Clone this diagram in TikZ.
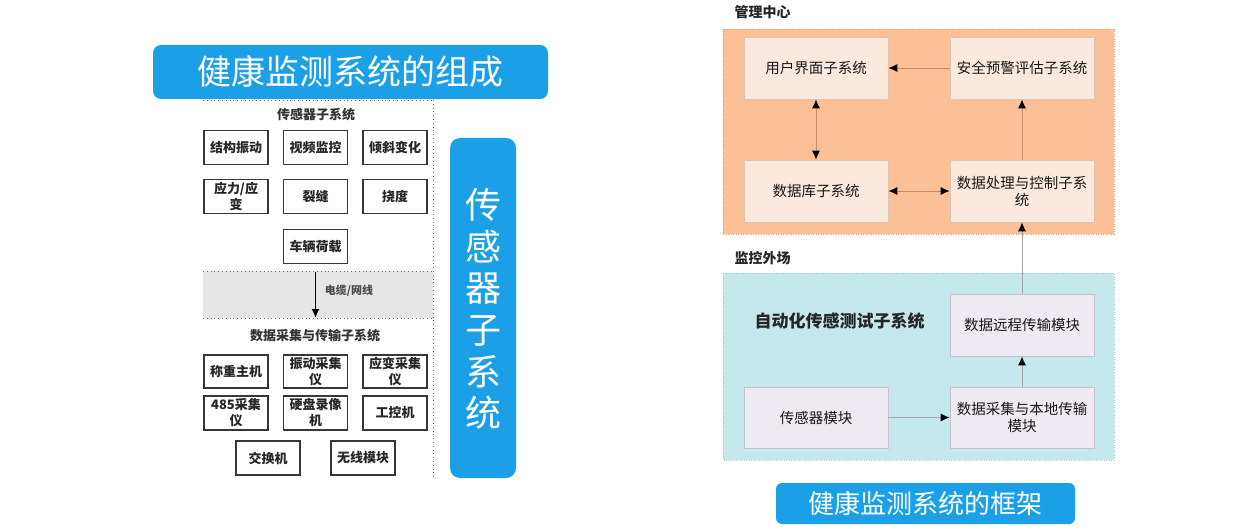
\documentclass[tikz,border=0pt]{standalone}
\usepackage{fontspec}
\setmainfont{Noto Sans CJK SC}
\usetikzlibrary{arrows.meta}
\definecolor{tblue}{RGB}{27,160,232}
\definecolor{lbord}{RGB}{55,55,55}
\definecolor{band}{RGB}{230,230,230}
\definecolor{orng}{RGB}{251,192,150}
\definecolor{orngd}{RGB}{225,160,120}
\definecolor{peach}{RGB}{252,233,221}
\definecolor{peachd}{RGB}{225,195,175}
\definecolor{cyanb}{RGB}{196,232,236}
\definecolor{cyand}{RGB}{160,205,210}
\definecolor{lav}{RGB}{237,234,242}
\definecolor{lavd}{RGB}{195,195,205}
\definecolor{brn}{RGB}{200,140,105}
\definecolor{garr}{RGB}{165,165,165}
\begin{document}
\begin{tikzpicture}[x=1pt,y=-1pt,
  lbox/.style={draw=lbord, line width=1.8pt, fill=white, minimum width=64pt, minimum height=34pt,
    inner sep=1pt, align=center, font=\fontsize{13}{16}\selectfont\bfseries, text=black!85},
  rbox/.style={minimum width=144pt, minimum height=62pt, align=center,
    font=\fontsize{14.5}{17}\selectfont, inner sep=2pt, line width=0.8pt, text=black!90},
  pbox/.style={rbox, fill=peach, draw=peachd},
  vbox/.style={rbox, fill=lav, draw=lavd},
  tip/.style={},
  oarr/.style={draw=brn, line width=0.9pt, -{Latex[length=9pt,width=8pt,color=black]}},
  odarr/.style={draw=brn, line width=0.9pt, {Latex[length=9pt,width=8pt,color=black]}-{Latex[length=9pt,width=8pt,color=black]}},
  garrow/.style={draw=garr, line width=0.9pt, -{Latex[length=9pt,width=8pt,color=black]}},
  karrow/.style={draw=black, line width=1.8pt, -{Latex[length=9pt,width=8pt]}},
  dotline/.style={draw=black!55, line width=0.8pt, dash pattern=on 0.8pt off 3pt},
  ttl/.style={fill=tblue, rounded corners=8pt, text=white},
  lbl/.style={font=\fontsize{13}{14}\selectfont\bfseries, text=black!80},
  hdr/.style={font=\fontsize{14}{16}\selectfont\bfseries, text=black!85}
]
\useasboundingbox (0,0) rectangle (1256,532);
\fill[white] (0,0) rectangle (1256,532);

% ---------------- Left panel ----------------
\fill[band] (203,271) rectangle (433,318);
\draw[dotline] (203,100) -- (433,100);
\draw[dotline] (203,271) -- (433,271);
\draw[dotline] (203,318) -- (433,318);
\draw[dotline] (433,100) -- (433,478);

\node[ttl, minimum width=395pt, minimum height=54pt, font=\fontsize{34}{36}\selectfont] (title1) at (350.5,72) {健康监测系统的组成};

\node[lbl] (sensorhdr) at (316,115) {传感器子系统};
\node[lbox] (s1) at (236,147.5) {结构振动};
\node[lbox] (s2) at (315.5,147.5) {视频监控};
\node[lbox] (s3) at (395,147.5) {倾斜变化};
\node[lbox] (s4) at (236,196.5) {应力/应\\变};
\node[lbox] (s5) at (315.5,196.5) {裂缝};
\node[lbox] (s6) at (395,196.5) {挠度};
\node[lbox] (s7) at (315.5,246.5) {车辆荷载};

\coordinate (cabA) at (315.5,272);
\coordinate (cabB) at (315.5,318);
\draw[karrow] (cabA) -- (cabB);
\node[font=\fontsize{11}{12}\selectfont\bfseries, text=black!70] (cable) at (349,291) {电缆/网线};

\node[lbl] (daqhdr) at (315,336) {数据采集与传输子系统};
\node[lbox, minimum height=33pt] (d1) at (236,371.5) {称重主机};
\node[lbox, minimum height=33pt] (d2) at (315.5,371.5) {振动采集\\仪};
\node[lbox, minimum height=33pt] (d3) at (395,371.5) {应变采集\\仪};
\node[lbox] (d4) at (236,413) {485采集\\仪};
\node[lbox] (d5) at (315.5,413) {硬盘录像\\机};
\node[lbox] (d6) at (395,413) {工控机};
\node[lbox] (d7) at (268,458) {交换机};
\node[lbox] (d8) at (363,458) {无线模块};

\node[ttl, rounded corners=10pt, minimum width=66pt, minimum height=340pt] (vbar) at (483,308) {};
\node[text=white, align=center, font=\fontsize{36}{41.6}\selectfont] (vtext) at (483,309) {传\\感\\器\\子\\系\\统};

% ---------------- Right panel ----------------
\node[hdr, anchor=west] (mgmt) at (731,12) {管理中心};
\fill[orng] (723,29) rectangle (1114,234);
\draw[draw=orngd, line width=0.8pt, dash pattern=on 1pt off 1.5pt] (723,29) rectangle (1114,234);

\node[pbox] (ui) at (816,68) {用户界面子系统};
\node[pbox] (warn) at (1022,68) {安全预警评估子系统};
\node[pbox] (db) at (816,191) {数据库子系统};
\node[pbox] (proc) at (1022,191) {数据处理与控制子系\\统};

\draw[oarr] (warn) -- (ui);
\draw[odarr] (ui) -- (db);
\draw[odarr] (db) -- (proc);
\draw[oarr] (proc) -- (warn);

\node[hdr, anchor=west] (field) at (731,258) {监控外场};
\fill[cyanb] (723,273) rectangle (1114,460);
\draw[draw=cyand, line width=0.8pt, dash pattern=on 1pt off 1.5pt] (723,273) rectangle (1114,460);

\node[font=\fontsize{17}{19}\selectfont\bfseries, text=black!85, anchor=west] (auto) at (751,321) {自动化传感测试子系统};

\node[vbox] (remote) at (1022,325) {数据远程传输模块};
\node[vbox, minimum height=61pt] (sens) at (816,417.5) {传感器模块};
\node[vbox, minimum height=61pt] (local) at (1022,417.5) {数据采集与本地传输\\模块};

\draw[garrow] (sens) -- (local);
\draw[garrow] (local) -- (remote);
\draw[garrow] (remote) -- (proc);

\node[ttl, rounded corners=6pt, minimum width=299pt, minimum height=41pt, font=\fontsize{26}{28}\selectfont] (title2) at (925.5,503.5) {健康监测系统的框架};
\end{tikzpicture}
\end{document}
